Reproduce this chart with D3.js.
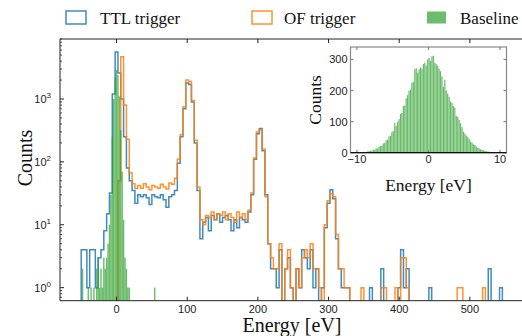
<!DOCTYPE html>
<html><head><meta charset="utf-8">
<script src="https://cdn.jsdelivr.net/npm/d3@7"></script>
<style>
body{margin:0;background:#fff} svg{display:block}
.serif{font-family:"Liberation Serif","Times New Roman","DejaVu Serif",serif;}
.sans{font-family:"Liberation Sans",Arial,"DejaVu Sans",sans-serif;}
</style>
</head><body><svg id="c" width="522" height="336"></svg>
<script>
// ---- data ----
const mainBinStart = -62, mainBinWidth = 4;   // eV, bin edges of trigger histograms
const ttlCounts = [
  0,0,0,4,4,1,4,4,1,3,
  4,8,15,32,1200,5600,2600,1000,250,80,
  50,35,22,30,28,30,27,21,30,28,
  27,30,25,19,28,30,35,95,250,700,
  1800,1700,900,200,35,6,11,13,8,14,
  12,15,11,13,14,12,8,12,9,13,
  12,11,16,30,110,280,340,150,30,5,
  2,2,1,4,0,2,3,1,0,2,
  1,4,3,2,4,1,2,0,1,9,
  22,36,26,6,2,1,1,1,0,0,
  0,0,0,0,0,1,0,0,0,2,
  0,0,0,0,0,1,4,1,2,0,
  0,0,0,0,0,0,1,0,0,0,
  0,0,0,0,0,0,0,0,0,0,
  0,0,0,0,0,0,0,2,0,0,
  0,1,0,0,0,0
];
const ofCounts = [
  0,0,0,0,0,0,0,0,0,0,
  0,0,0,0,0,0,50,4700,800,230,
  67,45,38,42,38,45,40,36,42,40,
  38,44,40,37,46,44,55,110,270,750,
  2000,1900,950,220,40,12,10,14,13,16,
  12,15,14,16,12,15,13,11,16,13,
  15,12,17,32,115,300,320,160,28,5,
  3,2,2,5,0,2,4,1,0,2,
  1,3,4,3,5,2,2,1,0,10,
  24,31,28,7,2,2,1,1,0,0,
  0,0,1,0,0,0,0,0,0,1,
  1,0,0,0,1,0,3,3,1,0,
  0,0,0,0,0,0,0,0,0,0,
  0,0,0,0,0,0,1,1,0,0,
  0,0,0,0,0,1,0,0,0,0,
  0,0,0,0,0,0
];
const baseBinStart = -51, baseBinWidth = 2;
const baselineCounts = [
  0,2,0,0,0,1,0,1,0,1,
  0,2,3,1,2,1,3,2,3,5,
  10,30,250,1000,2200,2900,2400,1100,320,70,
  12,3,2,1,1,0,0,0,0,0,
  0,0,0,0,0,0,0,0,0,0,
  0,0,1,0,0
];
const insetBinStart = -10, insetBinWidth = 0.2;
const insetCounts = [
  1,1,0,2,1,3,2,4,5,7,
  6,10,9,14,13,19,22,23,30,31,
  40,42,52,54,66,70,95,86,98,108,
  125,128,150,152,175,185,200,203,225,228,
  268,272,258,268,275,270,285,290,280,300,
  305,295,310,312,290,285,280,270,262,245,
  212,235,200,190,180,165,160,150,145,118,
  115,105,95,82,68,62,55,50,44,36,
  33,27,25,20,16,14,11,9,8,6,
  5,4,3,2,2,1,1,1,0,1
];
const mainXTicks = [0,100,200,300,400,500];
const mainYTicks = [1,10,100,1000];
const mainYExps = ["0","1","2","3"];
const insetXTicks = [-10,0,10];
const insetYTicks = [0,100,200,300];
const legendLabels = ["TTL trigger","OF trigger","Baseline"];
const xLabel = "Energy [eV]", yLabel = "Counts";

// ---- styles ----
const C_TTL = "#1f77b4", C_OF = "#ff7f0e", C_BASE = "#2ca02c";

const svg = d3.select("#c");
const M = {l:60, t:39, r:525, b:300.7};
const x = d3.scaleLinear().domain([-80,578]).range([M.l,M.r]);
const y = d3.scaleLog().domain([0.62,9000]).range([M.b,M.t]);

svg.append("clipPath").attr("id","clipMain").append("rect")
  .attr("x",M.l).attr("y",M.t).attr("width",522-M.l).attr("height",M.b-M.t);

const plot = svg.append("g").attr("clip-path","url(#clipMain)");
const low = M.b + 10;
function stepPath(counts,start,w){
  const p = d3.path();
  p.moveTo(x(start), low);
  counts.forEach((c,i)=>{
    const yy = c>0 ? y(c) : low;
    p.lineTo(x(start+i*w), yy);
    p.lineTo(x(start+(i+1)*w), yy);
  });
  p.lineTo(x(start+counts.length*w), low);
  return p.toString();
}
plot.append("path").attr("d",stepPath(ttlCounts,mainBinStart,mainBinWidth))
  .attr("fill","none").attr("stroke",C_TTL).attr("stroke-width",1.5).attr("stroke-opacity",0.85);
plot.append("path").attr("d",stepPath(ofCounts,mainBinStart,mainBinWidth))
  .attr("fill","none").attr("stroke",C_OF).attr("stroke-width",1.5).attr("stroke-opacity",0.85);
plot.append("g").selectAll("rect").data(baselineCounts.map((c,i)=>({c,i})).filter(d=>d.c>0))
  .join("rect")
  .attr("x",d=>x(baseBinStart+d.i*baseBinWidth))
  .attr("width",d=>x(baseBinStart+(d.i+1)*baseBinWidth)-x(baseBinStart+d.i*baseBinWidth))
  .attr("y",d=>y(d.c)).attr("height",d=>M.b-y(d.c))
  .attr("fill",C_BASE).attr("fill-opacity",0.7);

// axes frame
const ax = svg.append("g").attr("stroke","#222").attr("stroke-width",1);
ax.append("line").attr("x1",M.l).attr("x2",522).attr("y1",M.t).attr("y2",M.t);
ax.append("line").attr("x1",M.l).attr("x2",522).attr("y1",M.b).attr("y2",M.b);
ax.append("line").attr("x1",M.l).attr("x2",M.l).attr("y1",M.t).attr("y2",M.b);
mainXTicks.forEach(v=>{
  ax.append("line").attr("x1",x(v)).attr("x2",x(v)).attr("y1",M.b).attr("y2",M.b-4);
  ax.append("line").attr("x1",x(v)).attr("x2",x(v)).attr("y1",M.t).attr("y2",M.t+4);
});
mainYTicks.forEach(v=>{
  ax.append("line").attr("x1",M.l).attr("x2",M.l+4).attr("y1",y(v)).attr("y2",y(v));
});
[0.1,1,10,100,1000].forEach(dec=>{
  for(let k=2;k<=9;k++){
    const v=dec*k; if(v<0.62||v>9000) continue;
    ax.append("line").attr("x1",M.l).attr("x2",M.l+2).attr("y1",y(v)).attr("y2",y(v)).attr("stroke-width",0.8);
  }
});
svg.append("g").selectAll("text").data(mainXTicks).join("text")
  .attr("class","sans")
  .attr("x",d=>x(d)).attr("y",M.b+12).attr("text-anchor","middle")
  .attr("font-size",11).attr("fill","#222").text(d=>d);
mainYTicks.forEach((v,i)=>{
  const t = svg.append("text").attr("class","sans").attr("x",51).attr("y",y(v)+4).attr("text-anchor","end")
    .attr("font-size",11).attr("fill","#222");
  t.append("tspan").text("10");
  t.append("tspan").attr("dy",-5).attr("font-size",8).text(mainYExps[i]);
});
svg.append("text").attr("class","serif").attr("x",292).attr("y",332).attr("text-anchor","middle")
  .attr("font-size",20).attr("fill","#111").text(xLabel);
svg.append("text").attr("class","serif").attr("transform","translate(32,158) rotate(-90)").attr("text-anchor","middle")
  .attr("font-size",20).attr("fill","#111").text(yLabel);

// legend
const leg = svg.append("g");
const legX = [66,252,427], legTX = [100,284,460];
leg.append("rect").attr("x",legX[0]).attr("y",11).attr("width",20).attr("height",13)
  .attr("fill","none").attr("stroke",C_TTL).attr("stroke-opacity",0.85).attr("stroke-width",1.5);
leg.append("rect").attr("x",legX[1]).attr("y",11).attr("width",20).attr("height",13)
  .attr("fill","none").attr("stroke",C_OF).attr("stroke-opacity",0.85).attr("stroke-width",1.5);
leg.append("rect").attr("x",legX[2]).attr("y",11.5).attr("width",19).attr("height",12)
  .attr("fill",C_BASE).attr("fill-opacity",0.7);
legendLabels.forEach((l,i)=>{
  leg.append("text").attr("class","serif").attr("x",legTX[i]).attr("y",24)
    .attr("font-size",17).attr("fill","#111").text(l);
});

// ---- inset ----
const I = {l:350.5, r:506.5, t:47, b:152.7};
const xi = d3.scaleLinear().domain([-10.9,10.9]).range([I.l,I.r]);
const yi = d3.scaleLinear().domain([0,340]).range([I.b,I.t]);
const ins = svg.append("g");
ins.append("rect").attr("x",I.l).attr("y",I.t).attr("width",I.r-I.l).attr("height",I.b-I.t).attr("fill","#fff");
ins.append("g").selectAll("rect").data(insetCounts.map((c,i)=>({c,i})).filter(d=>d.c>0))
  .join("rect")
  .attr("x",d=>xi(insetBinStart+d.i*insetBinWidth))
  .attr("width",d=>xi(insetBinStart+(d.i+1)*insetBinWidth)-xi(insetBinStart+d.i*insetBinWidth)-0.25)
  .attr("y",d=>yi(d.c)).attr("height",d=>I.b-yi(d.c))
  .attr("fill",C_BASE).attr("fill-opacity",0.72);
const iax = ins.append("g").attr("stroke","#888").attr("stroke-width",1.2);
iax.append("rect").attr("x",I.l).attr("y",I.t).attr("width",I.r-I.l).attr("height",I.b-I.t).attr("fill","none");
insetXTicks.forEach(v=>{
  iax.append("line").attr("x1",xi(v)).attr("x2",xi(v)).attr("y1",I.b).attr("y2",I.b-3);
  iax.append("line").attr("x1",xi(v)).attr("x2",xi(v)).attr("y1",I.t).attr("y2",I.t+3);
});
insetYTicks.forEach(v=>{
  iax.append("line").attr("x1",I.l).attr("x2",I.l+3).attr("y1",yi(v)).attr("y2",yi(v));
  iax.append("line").attr("x1",I.r).attr("x2",I.r-3).attr("y1",yi(v)).attr("y2",yi(v));
});
ins.append("line").attr("x1",I.l).attr("x2",I.r).attr("y1",I.b).attr("y2",I.b).attr("stroke","#111").attr("stroke-width",1.2);
ins.append("g").selectAll("text").data(insetXTicks).join("text")
  .attr("class","sans")
  .attr("x",d=>xi(d)).attr("y",I.b+10).attr("text-anchor","middle")
  .attr("font-size",11).attr("fill","#222")
  .text(d=>d<0?"\u2212"+Math.abs(d):d);
ins.append("g").selectAll("text").data(insetYTicks).join("text")
  .attr("class","sans")
  .attr("x",I.l-3).attr("y",d=>yi(d)+4).attr("text-anchor","end")
  .attr("font-size",11).attr("fill","#222").text(d=>d);
ins.append("text").attr("class","serif").attr("x",428.5).attr("y",191).attr("text-anchor","middle")
  .attr("font-size",17.5).attr("fill","#111").text(xLabel);
ins.append("text").attr("class","serif").attr("transform","translate(321,100) rotate(-90)").attr("text-anchor","middle")
  .attr("font-size",17.5).attr("fill","#111").text(yLabel);
</script></body></html>
